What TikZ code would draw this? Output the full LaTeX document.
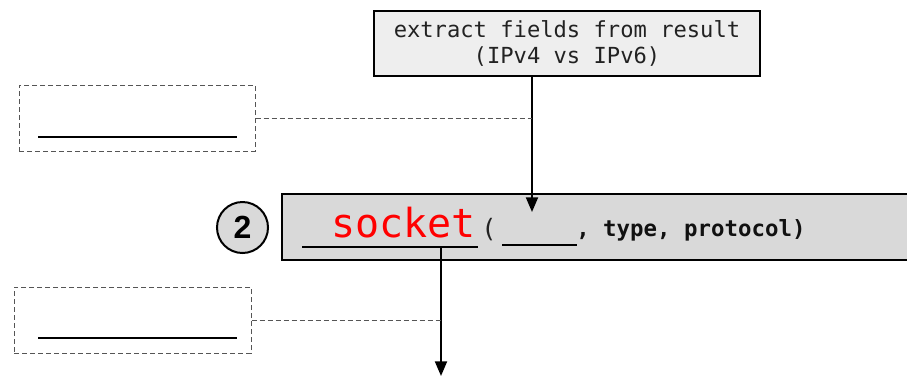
\documentclass[tikz,border=0pt]{standalone}
\usepackage{fontspec}
\setmonofont{DejaVu Sans Mono}
\setsansfont{Liberation Sans}
\usepackage{tikz}
\usetikzlibrary{arrows.meta}

\begin{document}
\begin{tikzpicture}[x=0.75pt,y=0.75pt,yscale=-1,xscale=1,
	stepbox/.style={draw=black, line width=1.5pt, fill={rgb,255:red,238;green,238;blue,238}, inner sep=0pt, align=center, text={rgb,255:red,34;green,34;blue,34}, font=\fontsize{16.6}{19.5}\selectfont\ttfamily},
	callbox/.style={draw=black, line width=2pt, fill={rgb,255:red,217;green,217;blue,217}, inner sep=0pt},
	numcircle/.style={circle, draw=black, line width=1.5pt, fill={rgb,255:red,217;green,217;blue,217}, inner sep=0pt, minimum size=38.25pt, font=\fontsize{24}{24}\selectfont\sffamily\bfseries},
	retbox/.style={draw={rgb,255:red,85;green,85;blue,85}, dash pattern=on 4pt off 2pt, line width=0.75pt, inner sep=0pt},
	dashlink/.style={draw={rgb,255:red,85;green,85;blue,85}, dash pattern=on 4pt off 2pt, line width=0.75pt},
	blank/.style={line width=1.5pt},
	flow/.style={line width=1.5pt, -{Triangle[length=11pt,width=9pt]}}]
		\clip (0,0) rectangle (907,376);
		
		%Shape: Rectangle (main call)
		\node [callbox, minimum width=525pt, minimum height=49.5pt] (call) at (632,227) {};
		%Shape: Rectangle (top step)
		\node [stepbox, minimum width=289.5pt, minimum height=48.75pt] (extract) at (567,43.5) {extract fields from result\\(IPv4 vs IPv6)};
		%Shape: Circle
		\node [numcircle] (num) at (242.5,227.5) {2};
		%Shape: Dashed Rectangles
		\node [retbox, minimum width=177pt, minimum height=49.5pt] (ret1) at (137,118) {};
		\node [retbox, minimum width=177.75pt, minimum height=49.5pt] (ret2) at (132.5,320) {};
		
		% Text Node
		\node [anchor=base west, inner sep=0pt, text={rgb,255:red,255;green,0;blue,0}, font=\fontsize{30}{30}\selectfont\ttfamily] (fname) at (331,237) {socket};
		% Text Node
		\node [anchor=base, inner sep=0pt, text={rgb,255:red,34;green,34;blue,34}, font=\fontsize{19}{19}\selectfont\ttfamily] (paren) at (489,237) {(};
		% Text Node
		\node [anchor=base west, inner sep=0pt, text={rgb,255:red,17;green,17;blue,17}, font=\fontsize{16.8}{16.8}\selectfont\ttfamily\bfseries] (args) at (576,236) {, type, protocol)};
		
		%Blanks
		\coordinate (outL) at (302,247);
		\coordinate (outR) at (478,247);
		\coordinate (famL) at (502,245);
		\coordinate (famR) at (577,245);
		\draw [blank] (outL) -- (outR);
		\draw [blank] (famL) -- (famR);
		\draw [blank] (38,137) -- (237,137);
		\draw [blank] (38,338) -- (237,338);
		
		%Connectors
		\coordinate (famin) at (532,212);
		\coordinate (out) at (441,247);
		\coordinate (down) at (441,376);
		\draw [flow] (extract.south -| famin) -- (famin);
		\draw [flow] (out) -- (down);
		\draw [dashlink] (ret1.east) -- (ret1.east -| famin);
		\draw [dashlink] (ret2.east) -- (ret2.east -| out);
	\end{tikzpicture}
\end{document}
